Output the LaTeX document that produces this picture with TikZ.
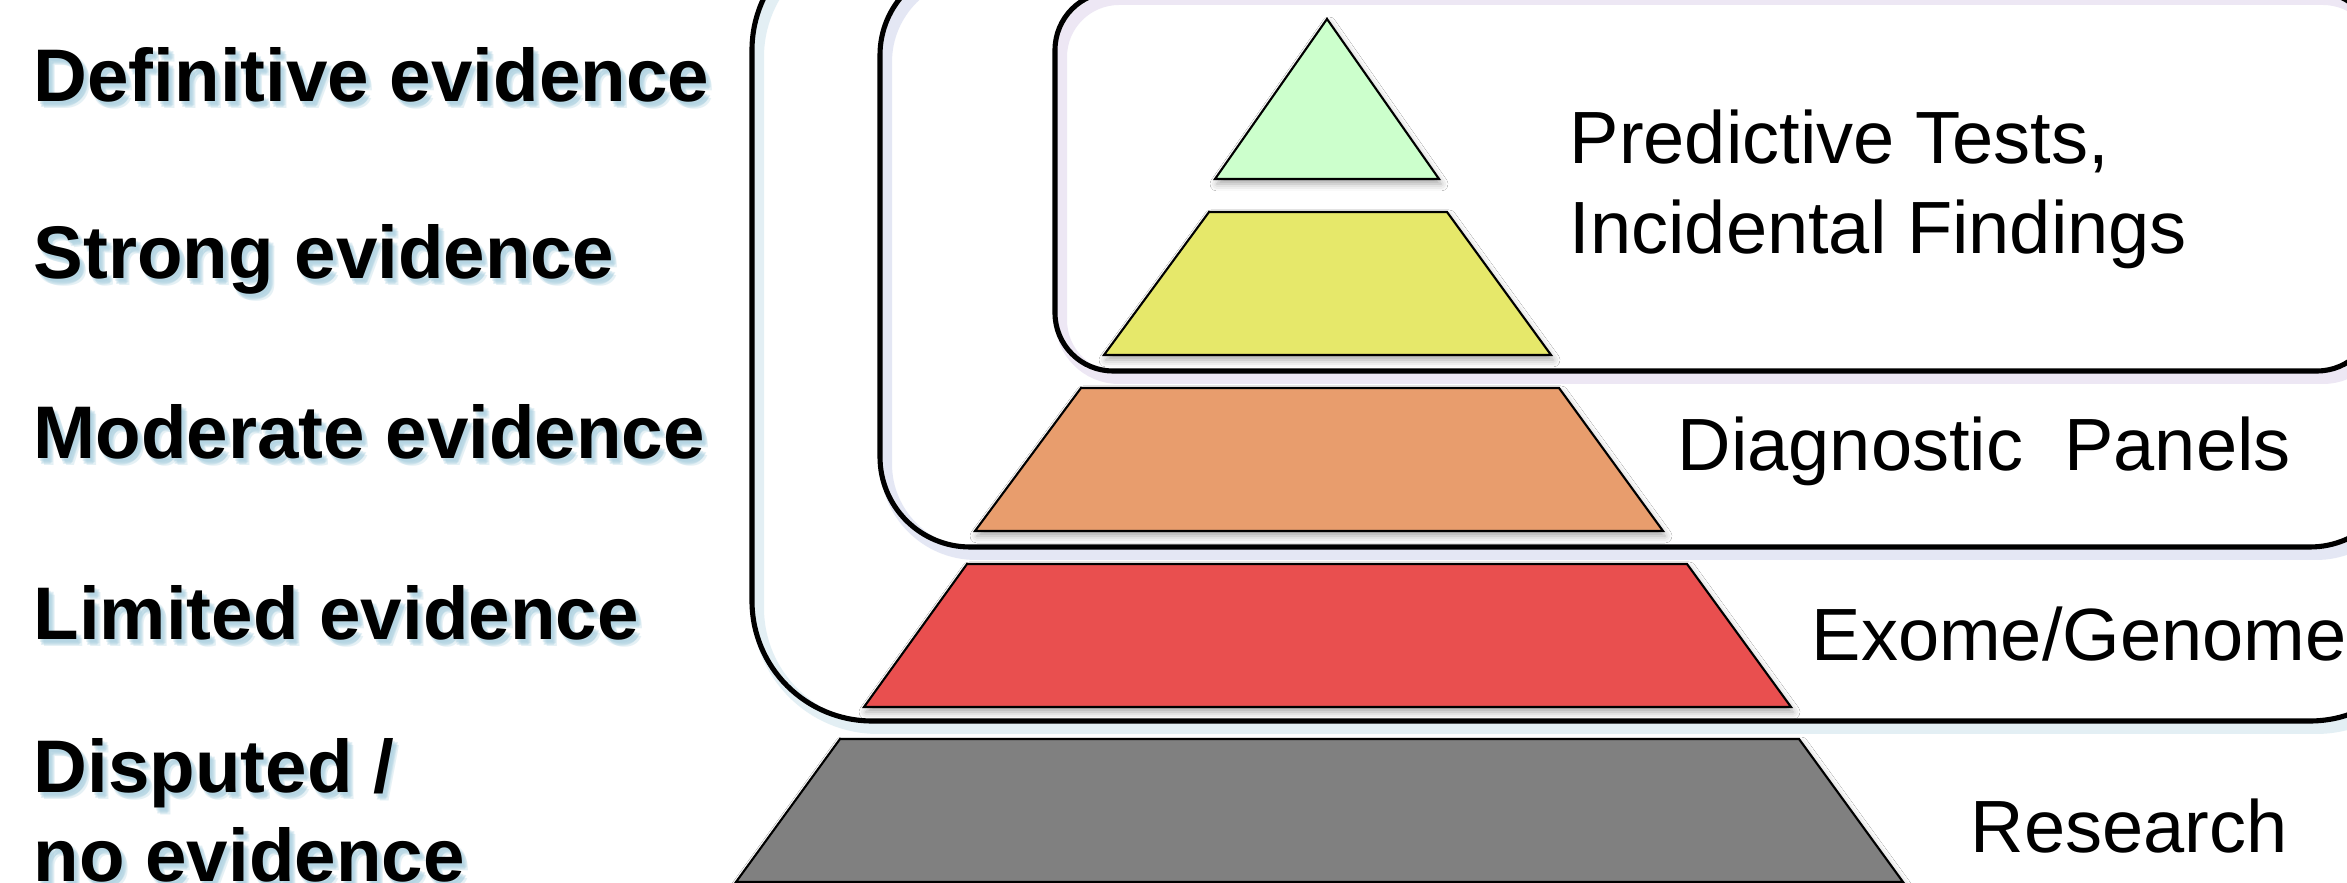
\documentclass[tikz,border=0pt]{standalone}
\usepackage{fontspec}
\newfontfamily\arialfont{Liberation Sans}
\usetikzlibrary{shadows.blur}
\definecolor{tgreen}{RGB}{204,255,204}
\definecolor{tyellow}{RGB}{230,232,106}
\definecolor{torange}{RGB}{232,157,109}
\definecolor{tred}{RGB}{233,79,79}
\definecolor{tgray}{RGB}{128,128,128}
\definecolor{textglow}{RGB}{165,205,222}
\definecolor{glowA}{RGB}{175,210,225}
\definecolor{glowB}{RGB}{180,188,225}
\definecolor{glowC}{RGB}{205,188,225}
\tikzset{
  tier/.style={draw=black, line width=0.6pt, line join=miter,
    blur shadow={shadow xshift=0.02cm, shadow yshift=-0.05cm, shadow blur radius=0.07cm, shadow opacity=35}},
  frame/.style={draw=black, line width=1.45pt},
  frameglow/.style={line width=0.12cm, draw opacity=0.35},
  evtext/.style={font=\arialfont\bfseries\fontsize{21.2}{25}\selectfont, inner sep=0pt, anchor=base west},
  usetext/.style={font=\arialfont\fontsize{21.05}{25}\selectfont, inner sep=0pt, anchor=base west},
}
\newcommand{\evlabel}[3]{%
  \foreach \gx/\gy [count=\gk] in {2/3,4/5,6/7,3/6,5/4}{
    \node[evtext, text=textglow, text opacity=0.28] (#1-g\gk) at ([shift={(\gx,\gy)}]#2) {#3};
  }
  \node[evtext] (#1) at (#2) {#3};
}
\begin{document}
\begin{tikzpicture}[x=0.01cm, y=-0.01cm]
\useasboundingbox (0,0) rectangle (2347,883);
\clip (0,0) rectangle (2347,883);
\fill[white] (0,0) rectangle (2347,883);

% frames: glow then outline
\begin{scope}[shift={(6,7)}]
  \draw[frameglow, glowA, rounded corners=1.2cm] (752,-70) rectangle (2430,721);
  \draw[frameglow, glowB, rounded corners=0.9cm] (880,-35) rectangle (2400,547);
  \draw[frameglow, glowC, rounded corners=0.58cm] (1055,-8) rectangle (2375,371);
\end{scope}
\draw[frame, rounded corners=1.2cm] (752,-70) rectangle (2430,721);
\draw[frame, rounded corners=0.9cm] (880,-35) rectangle (2400,547);
\draw[frame, rounded corners=0.58cm] (1055,-8) rectangle (2375,371);

% pyramid tiers
\filldraw[tier, fill=tgreen]  (1327,19) -- (1439,179) -- (1215,179) -- cycle;
\filldraw[tier, fill=tyellow] (1209,212) -- (1447,212) -- (1551,355) -- (1104,355) -- cycle;
\filldraw[tier, fill=torange] (1081,388) -- (1559,388) -- (1663,531) -- (975,531) -- cycle;
\filldraw[tier, fill=tred]    (967,564) -- (1687,564) -- (1791,707) -- (864,707) -- cycle;
\filldraw[tier, fill=tgray]   (840,739) -- (1799,739) -- (1903,882) -- (736,882) -- cycle;

% evidence labels
\evlabel{def}{33,102}{Definitive evidence}
\evlabel{str}{33,279}{Strong evidence}
\evlabel{mod}{33,459}{Moderate evidence}
\evlabel{lim}{33,640}{Limited evidence}
\evlabel{dis}{33,793}{Disputed /}
\evlabel{noev}{33,882}{no evidence}

% usage labels
\node[usetext] (pred) at (1569,164) {Predictive Tests,};
\node[usetext] (inc) at (1569,254) {Incidental Findings};
\node[usetext] (diag) at (1677,471) {Diagnostic\ \ Panels};
\node[usetext] (exo) at (1811,661) {Exome/Genome};
\node[usetext] (res) at (1970,853) {Research};
\end{tikzpicture}
\end{document}
